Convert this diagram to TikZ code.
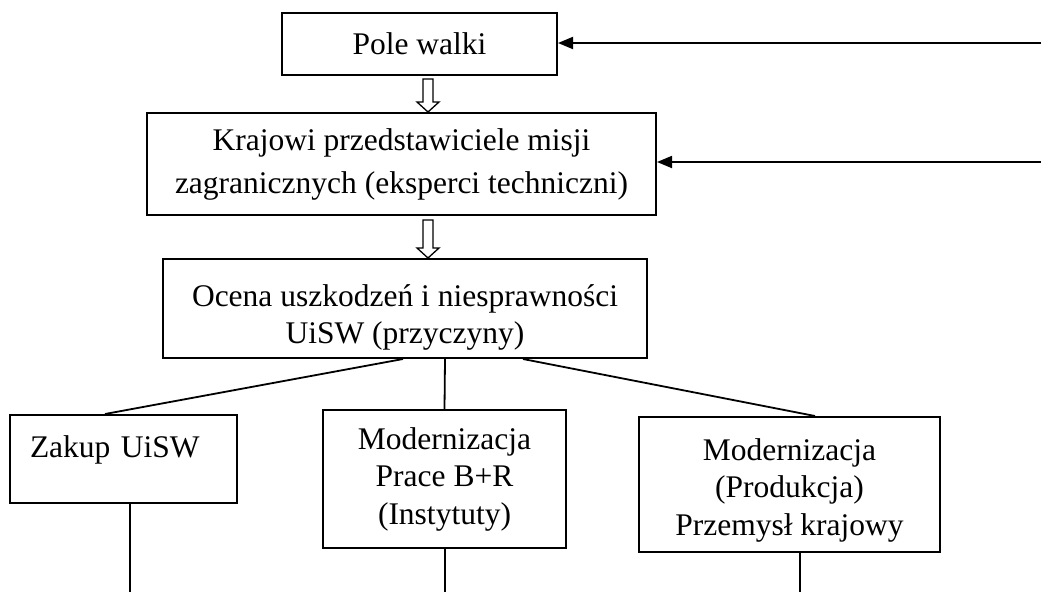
\documentclass[tikz,border=0pt]{standalone}
\usepackage{fontspec}
\setmainfont{Liberation Serif}
\usetikzlibrary{arrows.meta,calc}
\tikzset{
    box/.style={draw, line width=2pt, inner sep=0pt, align=center,
        font=\fontsize{31.5}{43}\selectfont},
    lowbox/.style={box, font=\fontsize{31.5}{37.5}\selectfont},
    feed/.style={line width=1.8pt, -{Triangle[length=15pt,width=12pt]}},
    link/.style={line width=1.8pt},
}
\newcommand{\openarrow}[2]{%
    \draw[line width=1.3pt] let \p1=(#1), \p2=(#2) in
        (\x1-5pt,\y1) -- (\x1-5pt,\y2+10pt) -- (\x1-11pt,\y2+10pt) -- (\x2,\y2)
        -- (\x1+11pt,\y2+10pt) -- (\x1+5pt,\y2+10pt) -- (\x1+5pt,\y1) -- cycle;}

\begin{document}
\begin{tikzpicture}[x=1pt, y=-1pt]
    \useasboundingbox (0,0) rectangle (1041,592);
    \node[box, minimum width=275pt, minimum height=62pt] (pole) at (419.5,44) {Pole walki};
    \node[box, minimum width=509pt, minimum height=102pt] (krajowi) at (401.5,164)
        {Krajowi przedstawiciele misji\\zagranicznych (eksperci techniczni)};
    \node[lowbox, minimum width=484pt, minimum height=99pt, text height=77pt] (ocena) at (405,308.5)
        {Ocena uszkodzeń i niesprawności\\UiSW (przyczyny)};
    \node[lowbox, align=left, inner xsep=20pt, text width=187pt, minimum height=88pt,
        text height=21pt, text depth=24pt] (zakup) at (123.5,459) {Zakup UiSW};
    \node[lowbox, minimum width=243pt, minimum height=138pt] (badania) at (444.5,479)
        {Modernizacja\\Prace B+R\\(Instytuty)};
    \node[lowbox, minimum width=301pt, minimum height=135pt, text height=108pt] (przemysl) at (789.5,484.5)
        {Modernizacja\\(Produkcja)\\Przemysł krajowy};

    % sprzezenia zwrotne z prawej
    \coordinate (in1) at (1041,43);
    \coordinate (in2) at (1041,162);
    \draw[feed] (in1) -- (in1 -| pole.east);
    \draw[feed] (in2) -- (in2 -| krajowi.east);

    \coordinate (ax) at (428,0);
    \openarrow{$(pole.south -| ax)+(0,3)$}{krajowi.north -| ax}
    \openarrow{$(krajowi.south -| ax)+(0,4)$}{ocena.north -| ax}

    \draw[link] ($(ocena.south)+(-2,0)$) -- ($(zakup.north)+(-18.5,0)$);
    \draw[link] ($(ocena.south)+(40,0)$) -- (badania.north);
    \draw[link] ($(ocena.south)+(118,0)$) -- ($(przemysl.north)+(25.5,0)$);

    \coordinate (out1) at (130,592);
    \coordinate (out2) at (445,592);
    \coordinate (out3) at (800,592);
    \draw[link] (out1 |- zakup.south) -- (out1);
    \draw[link] (out2 |- badania.south) -- (out2);
    \draw[link] (out3 |- przemysl.south) -- (out3);
\end{tikzpicture}
\end{document}
